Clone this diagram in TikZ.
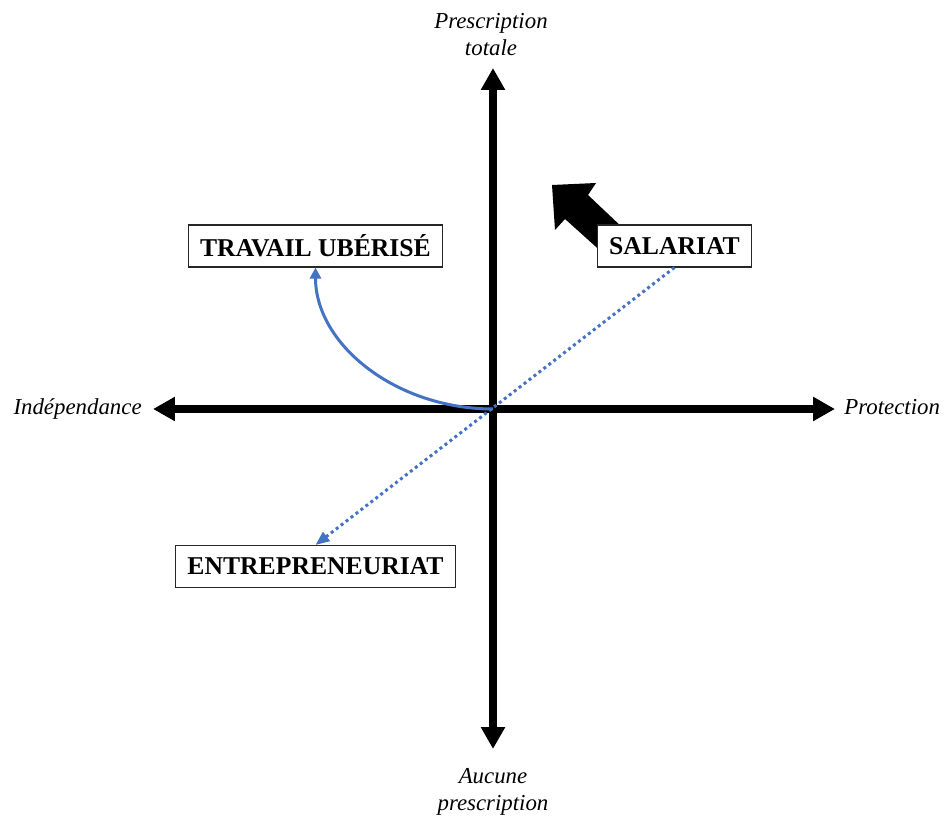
\documentclass[tikz,border=0pt]{standalone}
\usepackage{fontspec}
\setmainfont{Liberation Serif}
\usetikzlibrary{arrows.meta}
\definecolor{curveblue}{RGB}{68,114,196}
\tikzset{
  mainaxis/.style = {line width=0.16cm,
                     {Triangle[length=0.44cm,width=0.46cm]}-{Triangle[length=0.44cm,width=0.46cm]}},
  pole/.style     = {font=\fontsize{13}{15.3}\selectfont\itshape, align=center},
  regime/.style   = {draw=black!85, line width=0.6pt, fill=white, inner xsep=6.6pt,
                     minimum height=0.84cm, font=\fontsize{14.6}{17}\selectfont\bfseries},
  curvearrow/.style = {curveblue, line width=0.06cm, -{Triangle[length=0.22cm,width=0.22cm]}},
  dotarrow/.style   = {curveblue, line width=0.06cm, dash pattern=on 0.06cm off 0.065cm,
                       -{Triangle[length=0.28cm,width=0.22cm]}}
}

\begin{document}
\begin{tikzpicture}[x=0.02cm, y=-0.02cm]
	\def \cx{493}
	\def \cy{409}
	\useasboundingbox (0,0) rectangle (944,817);
	
	% Axes
	\coordinate (O)      at (\cx,\cy);
	\coordinate (top)    at (\cx,68);
	\coordinate (bottom) at (\cx,749);
	\coordinate (left)   at (153,\cy);
	\coordinate (right)  at (835,\cy);
	\draw[mainaxis] (left) -- (right);
	\draw[mainaxis] (bottom) -- (top);
	
	% Axis names
	\node[pole] (totale) at (491,35) {Prescription\\totale};
	\node[pole] (aucune) at (\cx,792) {Aucune\\prescription};
	\node[pole, inner sep=0pt, anchor=base east] (indep) at (142,415) {Indépendance};
	\node[pole, inner sep=0pt, anchor=base west] (protec) at (844,415) {Protection};
	
	% Big arrow (under the box)
	\fill[black] (552,185) -- (596,183) -- (588,195) -- (625,230) -- (605,255)
	             -- (565,219) -- (555,230) -- cycle;
	
	% Boxes
	\node[regime] (uber)     at (315.5,246) {TRAVAIL UBÉRISÉ};
	\node[regime] (salariat) at (674.5,246) {SALARIAT};
	\node[regime] (entre)    at (315.5,566.5) {ENTREPRENEURIAT};
	
	% Moves
	\draw[curvearrow] (O) .. controls +(-97,0) and +(0,77) .. (uber.south);
	\draw[dotarrow] (salariat.south) -- (entre.north);
	
\end{tikzpicture}
\end{document}
